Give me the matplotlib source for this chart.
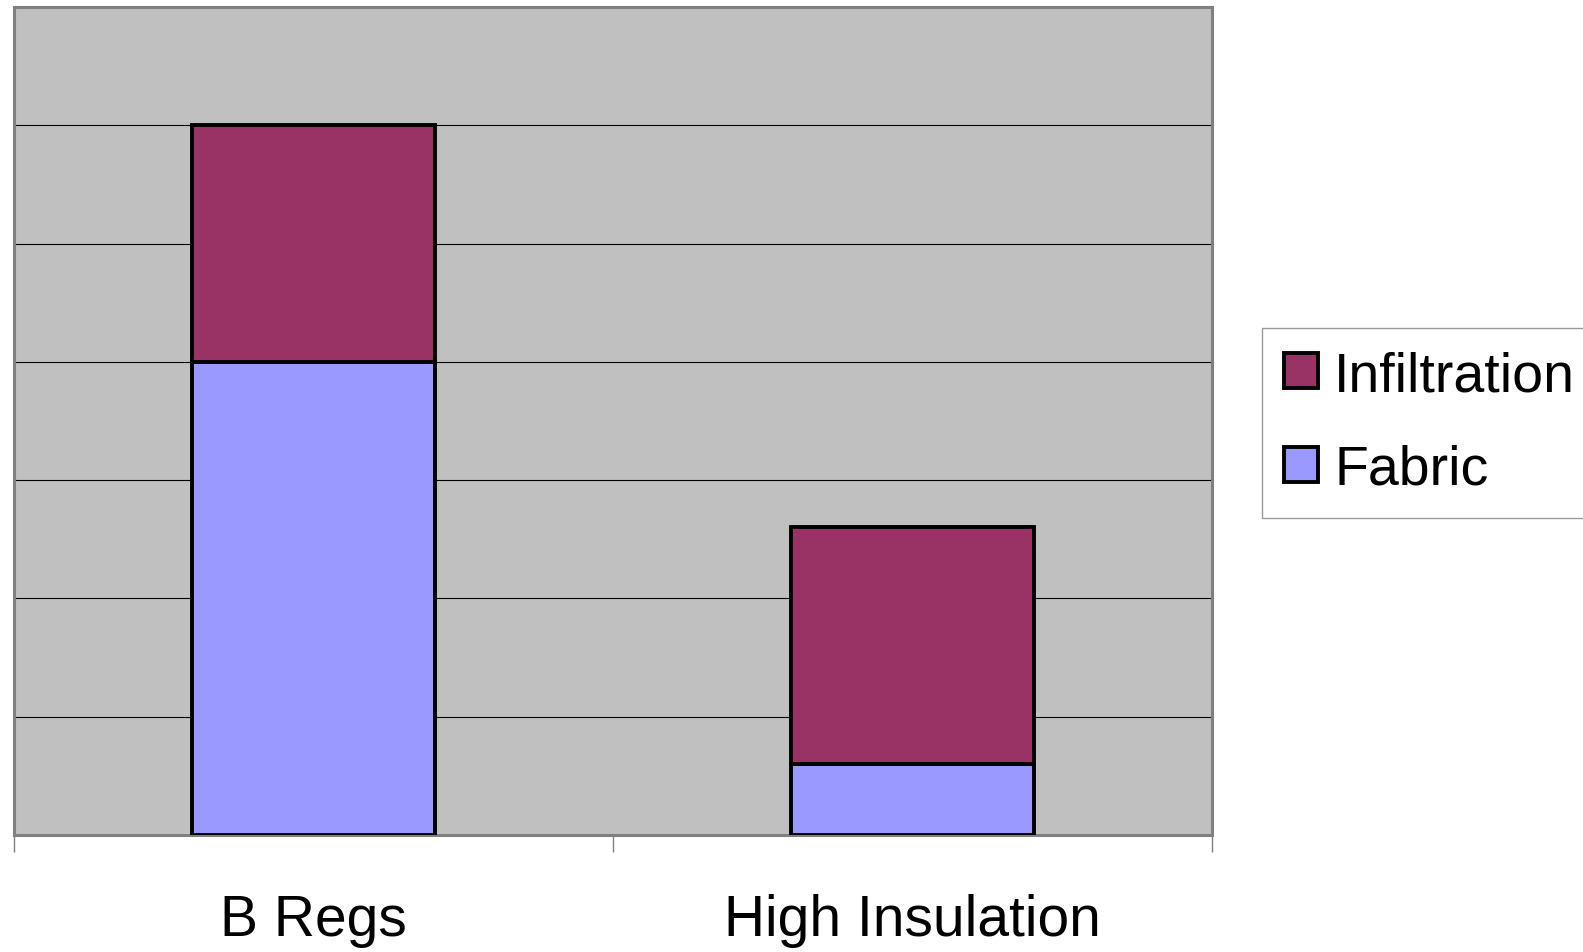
import matplotlib.pyplot as plt
import numpy as np

categories = ["B Regs", "High Insulation"]
fabric = [4.0, 0.6]
infiltration = [2.0, 2.0]

plt.rcParams['font.family'] = ['Liberation Sans', 'DejaVu Sans']

fig = plt.figure(figsize=(15.83, 9.53), dpi=100)
ax = fig.add_axes([14/1583, 1 - 836/953, (1212 - 14)/1583, (836 - 8)/953])
ax.set_facecolor('#c0c0c0')

xs = np.arange(len(categories)) + 0.5
w = 0.405
ax.bar(xs, fabric, w, color='#9999ff', edgecolor='black', linewidth=2.8,
       label='Fabric', zorder=3)
ax.bar(xs, infiltration, w, bottom=fabric, color='#993366', edgecolor='black',
       linewidth=2.8, label='Infiltration', zorder=3)

ax.set_xlim(0, len(categories))
ax.set_ylim(0, 7)
ax.set_yticks(np.arange(0, 8))
ax.yaxis.grid(True, color='black', linewidth=0.8, zorder=1)
ax.tick_params(axis='y', left=False, labelleft=False)

ax.set_xticks(np.arange(len(categories) + 1))
ax.set_xticklabels([])
ax.tick_params(axis='x', which='major', length=12, width=1, color='#808080')
ax.set_xticks(xs, minor=True)
ax.set_xticklabels(categories, minor=True, fontsize=41)
ax.tick_params(axis='x', which='minor', length=0, pad=42)

for s in ax.spines.values():
    s.set_color('#808080')
    s.set_linewidth(2.2)

handles, labels = ax.get_legend_handles_labels()
leg = fig.legend(handles[::-1], labels[::-1], loc='center left',
                 bbox_to_anchor=(1262/1583, 1 - 424/953), fontsize=40,
                 frameon=True, fancybox=False, edgecolor='#808080',
                 handlelength=0.6, handleheight=0.6, handletextpad=0.3,
                 labelspacing=0.75, borderpad=0.4, borderaxespad=0)
leg.get_frame().set_linewidth(1)

fig.savefig('out.png', dpi=100)
